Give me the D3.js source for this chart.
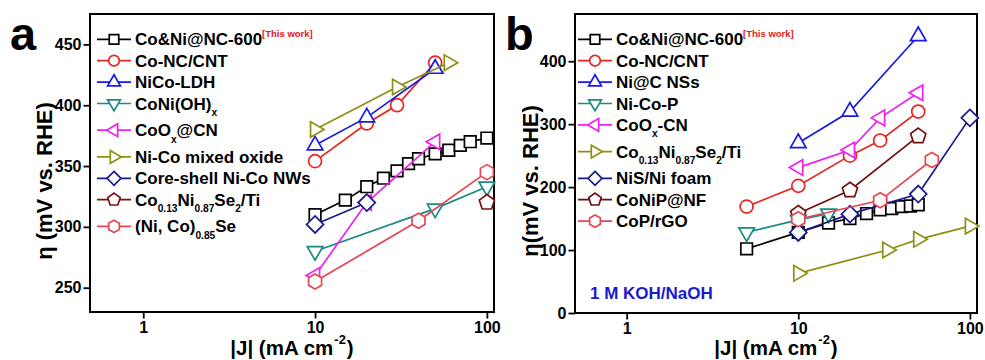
<!DOCTYPE html>
<html lang="en">
<head>
<meta charset="utf-8">
<script src="https://cdn.jsdelivr.net/npm/d3@7/dist/d3.min.js"></script>
<style>
	body { margin: 0; background: #fff; }
	svg text { font-family: "Liberation Sans", Arial, sans-serif; font-weight: bold; fill: #000; }
</style>
<title>Co&Ni@NC-600 comparison</title>
</head>
<body>
<script>
// ---- data, panel a (OER) ----
var aLabels = ["Co&Ni@NC-600", "Co-NC/CNT", "NiCo-LDH", "CoNi(OH)_{x}", "CoO_{x}@CN",
	"Ni-Co mixed oxide", "Core-shell Ni-Co NWs", "Co_{0.13}Ni_{0.87}Se_{2}/Ti", "(Ni, Co)_{0.85}Se"];
var aCoNiNC600 = [[10,310],[15,322],[20,333],[25,340],[30,346],[35,352],[40,356],[50,360],[60,363],[70,367],[80,370],[100,373]];
var aCoNCCNT = [[10,354],[20,385],[30,400],[50,435]];
var aNiCoLDH = [[10,367],[20,390],[50,430]];
var aCoNiOHx = [[10,280],[50,315],[100,333]];
var aCoOxCN = [[10,260],[20,320],[50,370]];
var aNiCoOxide = [[10,380],[30,415],[60,435]];
var aCoreShell = [[10,302],[20,320]];
var aCoNiSe2 = [[100,320]];
var aNiCoSe = [[10,255],[40,305],[100,345]];
var aYTicks = [250, 300, 350, 400, 450];

// ---- data, panel b (HER) ----
var bLabels = ["Co&Ni@NC-600", "Co-NC/CNT", "Ni@C NSs", "Ni-Co-P", "CoO_{x}-CN",
	"Co_{0.13}Ni_{0.87}Se_{2}/Ti", "NiS/Ni foam", "CoNiP@NF", "CoP/rGO"];
var bCoNiNC600 = [[5,102],[10,128],[15,143],[20,150],[25,158],[30,164],[35,166],[40,169],[45,170],[50,172]];
var bCoNCCNT = [[5,169],[10,202],[20,250],[30,274],[50,320]];
var bNiCNSs = [[10,270],[20,320],[50,440]];
var bNiCoP = [[5,128],[10,148],[15,158]];
var bCoOxCN = [[10,231],[20,259],[30,310],[50,350]];
var bCoNiSe2 = [[10,63],[33,100],[50,117],[100,138]];
var bNiSfoam = [[10,128],[20,157],[50,189],[100,310]];
var bCoNiPNF = [[10,158],[20,195],[50,281]];
var bCoPrGO = [[10,149],[30,179],[60,243]];
var bYTicks = [0, 100, 200, 300, 400];

var xTicks = [1, 10, 100];

// ---- styles ----
var aColors = ["#000000", "#e8261f", "#1a1ae6", "#1b8a80", "#ee22ee", "#8f8f14", "#1a1a8c", "#7f1010", "#e84552"];
var aShapes = ["square", "circle", "up", "down", "left", "right", "diamond", "pentagon", "hexagon"];
var bColors = ["#000000", "#e8261f", "#1a1ae6", "#1b8a80", "#ee22ee", "#8f8f14", "#1a1a8c", "#6e1010", "#e84552"];
var bShapes = ["square", "circle", "up", "down", "left", "right", "diamond", "pentagon", "hexagon"];

var W = 985, H = 360;
var svg = d3.select("body").append("svg").attr("width", W).attr("height", H);

function poly(n, r, rot) {
	var pts = [];
	for (var i = 0; i < n; i++) {
		var a = (rot + i * 360 / n - 90) * Math.PI / 180;
		pts.push([(r * Math.cos(a)).toFixed(2), (r * Math.sin(a)).toFixed(2)]);
	}
	return "M" + pts.join("L") + "Z";
}

function marker(g, shape, cx, cy, color, k) {
	if (shape == "circle") {
		return g.append("circle").attr("cx", cx).attr("cy", cy).attr("r", 6.5 * k)
			.attr("fill", "#fff").attr("stroke", color).attr("stroke-width", 1.7);
	}
	var d;
	if (shape == "square") d = poly(4, 8.2 * k, 45);
	else if (shape == "up") d = poly(3, 9 * k, 0);
	else if (shape == "down") d = poly(3, 9 * k, 180);
	else if (shape == "left") d = poly(3, 9 * k, -90);
	else if (shape == "right") d = poly(3, 9 * k, 90);
	else if (shape == "diamond") d = poly(4, 8.5 * k, 0);
	else if (shape == "pentagon") d = poly(5, 8 * k, 0);
	else d = poly(6, 7.5 * k, 0);
	return g.append("path").attr("d", d).attr("transform", "translate(" + cx + "," + cy + ")")
		.attr("fill", "#fff").attr("stroke", color).attr("stroke-width", 1.7);
}

// text with _{sub} and ^{sup}
function rich(text, str, fs) {
	var parts = str.split(/([_^]\{[^}]*\})/).filter(function(s) { return s.length; });
	var shift = 0;
	parts.forEach(function(p) {
		var m = p.match(/^([_^])\{(.*)\}$/);
		var t = text.append("tspan");
		if (m) {
			var d = m[1] == "_" ? fs * 0.38 : -fs * 0.5;
			t.attr("dy", d - shift).style("font-size", (fs * 0.6) + "px").text(m[2]);
			shift = d;
		} else {
			t.attr("dy", -shift).text(p);
			shift = 0;
		}
	});
}

function drawPanel(o) {
	var g = svg.append("g");
	var x = d3.scaleLog().domain(o.xDomain).range([o.left, o.right]);
	var y = d3.scaleLinear().domain(o.yDomain).range([o.bottom, o.top]);

	// minor ticks
	var xMinor = [];
	[0.1, 1, 10].forEach(function(dec) {
		for (var i = 2; i <= 9; i++) {
			var v = dec * i;
			if (v > o.xDomain[0] && v < o.xDomain[1]) xMinor.push(v);
		}
	});
	var step = o.yTicks[1] - o.yTicks[0];
	var yMinor = o.yTicks.map(function(v) { return v + step / 2; })
		.concat([o.yTicks[0] - step / 2])
		.filter(function(v) { return v > o.yDomain[0] && v < o.yDomain[1]; });

	var gx = g.append("g").attr("transform", "translate(0," + o.bottom + ")");
	gx.call(d3.axisBottom(x).tickValues(xMinor).tickSize(3.5).tickFormat(""));
	gx.call(d3.axisBottom(x).tickValues(xTicks).tickSize(6.5).tickPadding(3.5).tickFormat(d3.format("d")));
	var gy = g.append("g").attr("transform", "translate(" + o.left + ",0)");
	gy.call(d3.axisLeft(y).tickValues(yMinor).tickSize(3.5).tickFormat(""));
	gy.call(d3.axisLeft(y).tickValues(o.yTicks).tickSize(6.5).tickPadding(2).tickFormat(d3.format("d")));
	g.selectAll(".domain").remove();
	g.selectAll(".tick line").attr("stroke", "#000").attr("stroke-width", 1.8);
	g.selectAll(".tick text").style("font-size", "16px").attr("fill", "#000");

	g.append("rect").attr("x", o.left).attr("y", o.top)
		.attr("width", o.right - o.left).attr("height", o.bottom - o.top)
		.attr("fill", "none").attr("stroke", "#000").attr("stroke-width", 2);

	// series
	var line = d3.line().x(function(d) { return x(d[0]); }).y(function(d) { return y(d[1]); });
	o.series.forEach(function(s, i) {
		g.append("path").datum(s).attr("d", line).attr("fill", "none")
			.attr("stroke", o.colors[i]).attr("stroke-width", 1.7);
		s.forEach(function(d) { marker(g, o.shapes[i], x(d[0]), y(d[1]), o.colors[i], 1); });
	});

	// legend
	var ly = 39.3;
	o.labels.forEach(function(lab, i) {
		if (i > 0) ly += (o.labels[i - 1].indexOf("_{") >= 0) ? 26.7 : 21.4;
		var x0 = o.left + o.legendDx;
		g.append("line").attr("x1", x0).attr("x2", x0 + 34).attr("y1", ly).attr("y2", ly)
			.attr("stroke", o.colors[i]).attr("stroke-width", 1.7);
		marker(g, o.shapes[i], x0 + 17, ly, o.colors[i], 0.82);
		var t = g.append("text").attr("x", x0 + 38).attr("y", ly + 6).style("font-size", "17px");
		rich(t, lab, 17);
		if (i == 0) {
			t.append("tspan").attr("dy", -8).style("font-size", "9.5px").style("fill", "#e02020").text("[This work]");
		}
	});

	// x title, split in pieces so the superscript sits beside the "10" label
	var tx = (o.left + o.right) / 2, ty = 354.5;
	var t1 = g.append("text").attr("y", ty).style("font-size", "20.5px").text("|J| (mA cm");
	var t2 = g.append("text").attr("y", ty - 11).style("font-size", "13px").text("-2");
	var t3 = g.append("text").attr("y", ty).style("font-size", "20.5px").text(")");
	var w1 = t1.node().getComputedTextLength(), w2 = t2.node().getComputedTextLength(),
		w3 = t3.node().getComputedTextLength();
	var x1 = tx - (w1 + w2 + 2 + w3) / 2;
	t1.attr("x", x1);
	t2.attr("x", x1 + w1 + 1);
	t3.attr("x", x1 + w1 + w2 + 2);

	g.append("text").attr("transform", "translate(" + o.yTitleX + ",181) rotate(-90)")
		.attr("text-anchor", "middle").style("font-size", "22px").text(o.yTitle);

	g.append("text").attr("x", o.letterX).attr("y", 50).style("font-size", "47px").text(o.letter);
	return g;
}

drawPanel({
	left: 90, right: 494, top: 14, bottom: 312,
	xDomain: [0.49, 110], yDomain: [230, 475], yTicks: aYTicks,
	series: [aCoNiNC600, aCoNCCNT, aNiCoLDH, aCoNiOHx, aCoOxCN, aNiCoOxide, aCoreShell, aCoNiSe2, aNiCoSe],
	labels: aLabels, colors: aColors, shapes: aShapes, legendDx: 7,
	yTitle: "η (mV vs. RHE)", yTitleX: 52, letter: "a", letterX: 10
});

var gb = drawPanel({
	left: 575, right: 977, top: 14, bottom: 313,
	xDomain: [0.5, 110], yDomain: [0, 475], yTicks: bYTicks,
	series: [bCoNiNC600, bCoNCCNT, bNiCNSs, bNiCoP, bCoOxCN, bCoNiSe2, bNiSfoam, bCoNiPNF, bCoPrGO],
	labels: bLabels, colors: bColors, shapes: bShapes, legendDx: 3,
	yTitle: "η(mV vs. RHE)", yTitleX: 538, letter: "b", letterX: 505
});

gb.append("text").attr("x", 590).attr("y", 299).style("font-size", "17px")
	.style("fill", "#1a1acc").text("1 M KOH/NaOH");
</script>
</body>
</html>
